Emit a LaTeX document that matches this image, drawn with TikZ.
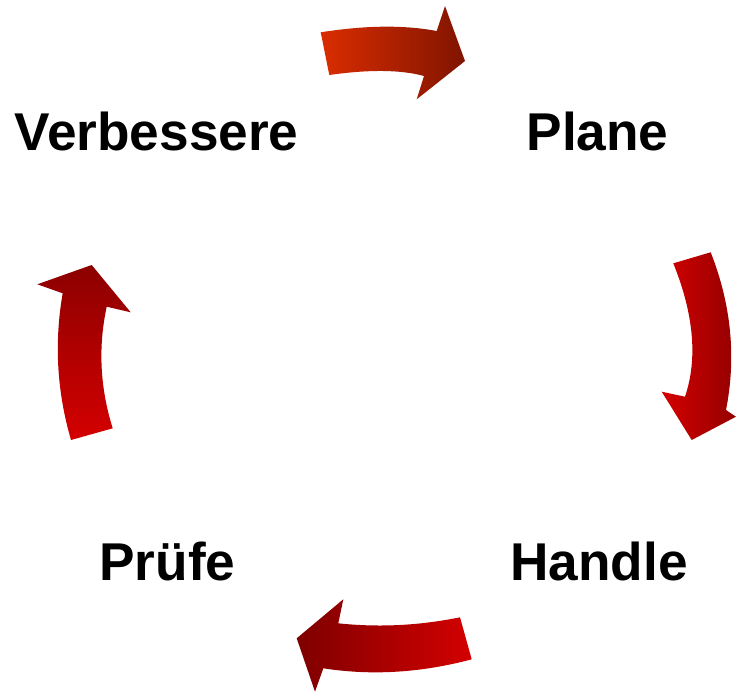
\documentclass[tikz,border=0pt]{standalone}
\usepackage{fontspec}
\setmainfont{Liberation Sans}
\begin{document}
\begin{tikzpicture}[x=1bp,y=-1bp,
  lbl/.style={anchor=base,inner sep=0pt,font=\bfseries\fontsize{53.4}{60}\selectfont}]
\useasboundingbox (0,0) rectangle (736,693);
\definecolor{topA}{RGB}{218,45,0}
\definecolor{topB}{RGB}{128,20,0}
\definecolor{redA}{RGB}{212,0,0}
\definecolor{redB}{RGB}{140,0,0}
% labels
\node[lbl] (verb) at (156.5,150) {Verbessere};
\node[lbl] (plan) at (597.5,150) {Plane};
\node[lbl] (hand) at (599,580) {Handle};
\node[lbl] (pruf) at (167.5,580) {Prüfe};
% top arrow
\shade[left color=topA,right color=topB]
  (320.7,32.3) .. controls (365.1,25.3) and (403.8,24.8) .. (436.7,31) -- (445,6) -- (465,61)
  -- (416.7,99.3) -- (424,76) .. controls (400.9,69.7) and (369.4,69.3) .. (329.3,75) -- cycle;
% right arrow
\shade[left color=redA,right color=redB!90!redA]
  (673.3,263.3) -- (710.7,252.3) .. controls (731.3,304.7) and (736.4,357.2) .. (726,410)
  -- (736,416.7) -- (691.7,440) -- (661.7,391.7) -- (685,396.7)
  .. controls (697.8,358.9) and (693.9,314.4) .. (673.3,263.3) -- cycle;
% bottom arrow
\shade[left color=redB!90!black,right color=redA!100!white]
  (460,617.3) .. controls (419.2,625.6) and (378.7,627.6) .. (338.3,623.3) -- (343.3,599.3)
  -- (296.7,638.3) -- (315,691.7) -- (323.3,668.3)
  .. controls (371.7,675.8) and (421.2,672.8) .. (471.7,659.3) -- cycle;
% left arrow
\shade[top color=redB,bottom color=redA]
  (71,440) .. controls (56.8,391.2) and (54.1,342.3) .. (62.7,293.3) -- (37.3,284.3)
  -- (91.7,265) -- (130.7,312.3) -- (106.7,306.7)
  .. controls (98.0,347.2) and (100.0,387.8) .. (112.7,428.3) -- cycle;
\end{tikzpicture}
\end{document}
